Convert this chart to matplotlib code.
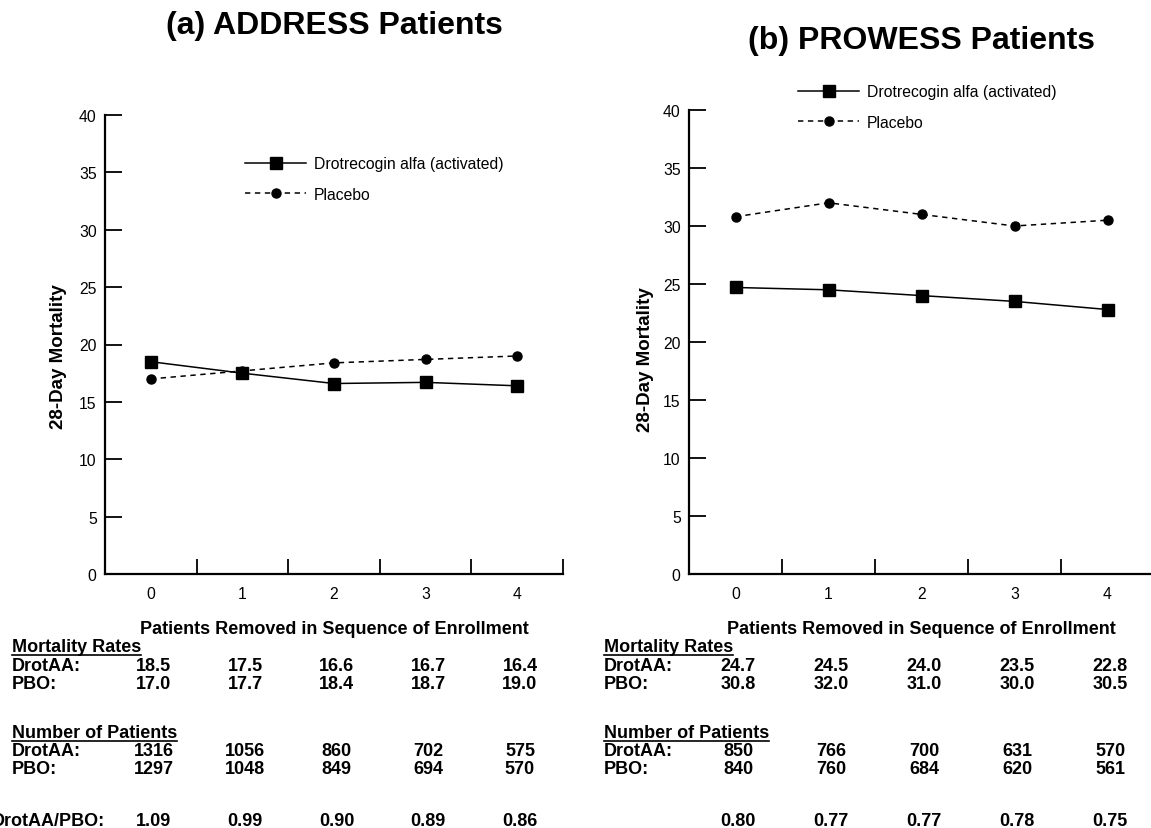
import matplotlib
matplotlib.use('Agg')
import matplotlib.pyplot as plt
import matplotlib.transforms as mtransforms
from matplotlib.lines import Line2D
import numpy as np

plt.rcParams['font.family'] = ['Liberation Sans', 'DejaVu Sans']

###########################################################################
# data

removed = [0, 1, 2, 3, 4]

# (a) ADDRESS
addr_drot = [18.5, 17.5, 16.6, 16.7, 16.4]
addr_pbo = [17.0, 17.7, 18.4, 18.7, 19.0]
addr_n_drot = ['1316', '1056', '860', '702', '575']
addr_n_pbo = ['1297', '1048', '849', '694', '570']
addr_ratio = ['1.09', '0.99', '0.90', '0.89', '0.86']

# (b) PROWESS
prow_drot = [24.7, 24.5, 24.0, 23.5, 22.8]
prow_pbo = [30.8, 32.0, 31.0, 30.0, 30.5]
prow_n_drot = ['850', '766', '700', '631', '570']
prow_n_pbo = ['840', '760', '684', '620', '561']
prow_ratio = ['0.80', '0.77', '0.77', '0.78', '0.75']

###########################################################################
W, H = 1151, 829
fig = plt.figure(figsize=(W / 100, H / 100), dpi=100)


def px(x, y):
    # pixel (from top-left) -> figure fraction
    return x / W, 1 - y / H


def make_axes(x0, x1, ytop, ybot):
    return fig.add_axes([x0 / W, 1 - ybot / H, (x1 - x0) / W, (ybot - ytop) / H])


def draw_panel(ax, drot, pbo, title, title_y, ylab_pos):
    ax.plot(removed, drot, '-', color='black', lw=1.1, marker='s', ms=8.5,
            label='Drotrecogin alfa (activated)')
    ax.plot(removed, pbo, color='black', lw=1.1, ls=(0, (3.5, 3.0)), marker='o', ms=6.5,
            label='Placebo')
    ax.set_xlim(-0.5, 4.5)
    ax.set_ylim(0, 40)
    ax.set_yticks(np.arange(0, 41, 5))
    ax.set_xticks(removed)
    ax.set_xticks([0.5, 1.5, 2.5, 3.5, 4.5], minor=True)
    ax.tick_params(axis='x', which='major', length=0, pad=9, labelsize=11.3)
    ax.tick_params(axis='x', which='minor', direction='in', length=11, width=1.3)
    ax.tick_params(axis='y', direction='in', length=12, width=1.3, pad=6, labelsize=11.3)
    for s in ['top', 'right']:
        ax.spines[s].set_visible(False)
    for s in ['left', 'bottom']:
        ax.spines[s].set_linewidth(1.6)
    ax.set_ylabel('28-Day Mortality', fontsize=13.5, fontweight='bold')
    ax.yaxis.set_label_coords(*ylab_pos)
    ax.set_xlabel('Patients Removed in Sequence of Enrollment', fontsize=13,
                  fontweight='bold', labelpad=13)
    cx = (ax.get_position().x0 + ax.get_position().x1) / 2
    fig.text(cx, 1 - title_y / H, title, ha='center', va='center',
             fontsize=23, fontweight='bold')


axA = make_axes(105, 563, 116, 575)
axB = make_axes(689, 1154, 111, 575)
draw_panel(axA, addr_drot, addr_pbo, '(a) ADDRESS Patients', 26, (-0.083, 0.475))
draw_panel(axB, prow_drot, prow_pbo, '(b) PROWESS Patients', 41, (-0.075, 0.465))

for ax, (lx, ly) in [(axA, (245, 157)), (axB, (798, 85))]:
    ax.legend(loc='upper left', bbox_to_anchor=px(lx, ly), bbox_transform=fig.transFigure,
              frameon=False, fontsize=11.3, handlelength=3.9, handletextpad=0.5,
              labelspacing=1.0, borderpad=0, borderaxespad=0)

###########################################################################
# table under each panel
headings = []


def draw_table(ax, lab_x, n_drot, n_pbo, drot, pbo, ratio, ratio_label):
    tr = mtransforms.blended_transform_factory(ax.transData, fig.transFigure)
    fs = 13
    headings.append(fig.text(lab_x / W, 1 - 648 / H, 'Mortality Rates', fontsize=fs,
                             fontweight='bold', va='center'))
    fig.text(lab_x / W, 1 - 667 / H, 'DrotAA:', fontsize=fs, fontweight='bold', va='center')
    fig.text(lab_x / W, 1 - 685 / H, 'PBO:', fontsize=fs, fontweight='bold', va='center')
    headings.append(fig.text(lab_x / W, 1 - 734 / H, 'Number of Patients', fontsize=fs,
                             fontweight='bold', va='center'))
    fig.text(lab_x / W, 1 - 752 / H, 'DrotAA:', fontsize=fs, fontweight='bold', va='center')
    fig.text(lab_x / W, 1 - 770 / H, 'PBO:', fontsize=fs, fontweight='bold', va='center')
    if ratio_label:
        fig.text(-8 / W, 1 - 822 / H, ratio_label, fontsize=fs, fontweight='bold', va='center')
    for i in range(len(removed)):
        x = removed[i] + 0.03
        for y, s in [(667, '%.1f' % drot[i]), (685, '%.1f' % pbo[i]),
                     (752, n_drot[i]), (770, n_pbo[i]), (822, ratio[i])]:
            ax.text(x, 1 - y / H, s, transform=tr, ha='center', va='center',
                    fontsize=fs, fontweight='bold', clip_on=False)


draw_table(axA, 12, addr_n_drot, addr_n_pbo, addr_drot, addr_pbo, addr_ratio, 'DrotAA/PBO:')
draw_table(axB, 604, prow_n_drot, prow_n_pbo, prow_drot, prow_pbo, prow_ratio, None)

# underline the table headings
fig.canvas.draw()
r = fig.canvas.get_renderer()
for t in headings:
    bb = t.get_window_extent(renderer=r)
    fig.add_artist(Line2D([bb.x0 / W, bb.x1 / W], [(bb.y0 + 1) / H, (bb.y0 + 1) / H],
                          transform=fig.transFigure, color='black', lw=1.2))

fig.savefig('out.png', dpi=100)
